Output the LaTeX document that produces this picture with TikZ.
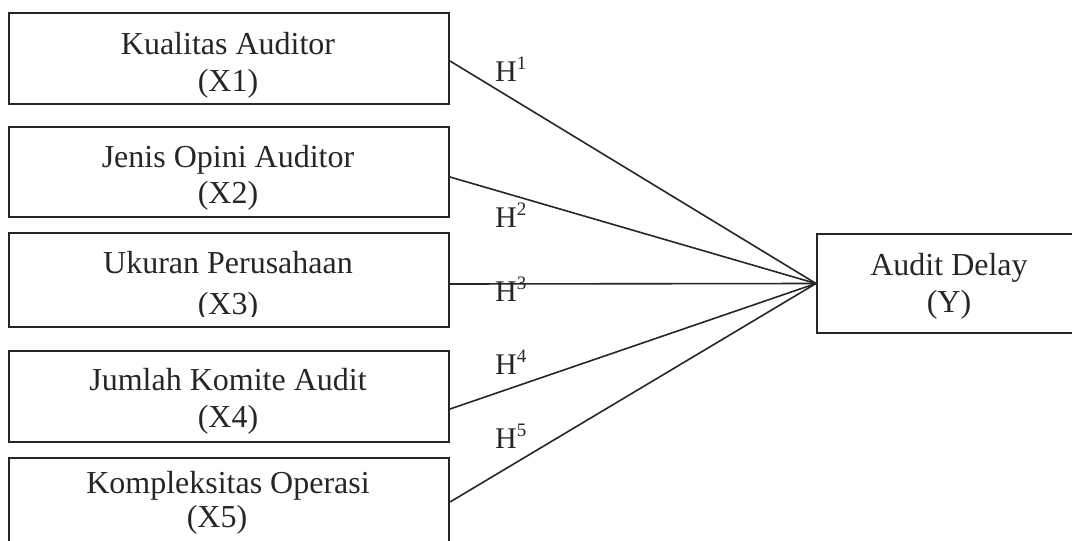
\documentclass[tikz,border=0pt]{standalone}
\usepackage{fontspec}
\setmainfont{Liberation Serif}
\usetikzlibrary{calc}
\definecolor{ink}{HTML}{262626}
\newcommand\hsup[1]{\raisebox{12pt}{\fontsize{19}{22}\selectfont #1}}
\tikzset{
  box/.style={draw=ink, line width=2pt, rectangle, inner sep=0pt},
  txt/.style={text=ink, inner sep=0pt, font=\fontsize{32}{38}\selectfont, anchor=base},
  hl/.style={text=ink, inner sep=0pt, font=\fontsize{30}{36}\selectfont, anchor=base west},
  link/.style={draw=ink, line width=1.6pt}
}
\begin{document}
\begin{tikzpicture}[x=1pt,y=-1pt]
\useasboundingbox (0,0) rectangle (1072,541);
% boxes
\node[box, minimum width=440pt, minimum height=91pt] (b1) at (229,58.5) {};
\node[box, minimum width=440pt, minimum height=90pt] (b2) at (229,172) {};
\node[box, minimum width=440pt, minimum height=94pt] (b3) at (229,280) {};
\node[box, minimum width=440pt, minimum height=91pt] (b4) at (229,396.5) {};
\node[box, minimum width=440pt, minimum height=162pt] (b5) at (229,539) {};
\node[box, minimum width=273pt, minimum height=99pt] (y) at (953.5,283.5) {};
% texts
\node[txt] (t1a) at (228,54) {Kualitas Auditor};
\node[txt] (t1b) at (228,91) {(X1)};
\node[txt] (t2a) at (228,167) {Jenis Opini Auditor};
\node[txt] (t2b) at (228,203) {(X2)};
\node[txt] (t3a) at (228,273) {Ukuran Perusahaan};
\begin{scope}
\clip (0,233) rectangle (449,316);
\node[txt] (t3b) at (228,314) {(X3)};
\end{scope}
\node[txt] (t4a) at (228,390) {Jumlah Komite Audit};
\node[txt] (t4b) at (228,427) {(X4)};
\node[txt] (t5a) at (228,493) {Kompleksitas Operasi};
\node[txt] (t5b) at (217,527) {(X5)};
\node[txt] (ya) at (949,275) {Audit Delay};
\node[txt] (yb) at (949,312) {(Y)};
% connectors
\draw[link] ($(b1.east)+(0,2.5)$) -- (y.west);
\draw[link] ($(b2.east)+(0,5)$) -- (y.west);
\draw[link] ($(b3.east)+(0,4)$) -- (y.west);
\draw[link] ($(b4.east)+(0,12.5)$) -- (y.west);
\draw[link] ($(b5.east)+(0,-37)$) -- (y.west);
% labels
\node[hl] (h1) at (495,81) {H\hsup{1}};
\node[hl] (h2) at (495,227) {H\hsup{2}};
\node[hl] (h3) at (495,301) {H\hsup{3}};
\node[hl] (h4) at (495,374) {H\hsup{4}};
\node[hl] (h5) at (495,448) {H\hsup{5}};
\end{tikzpicture}
\end{document}
